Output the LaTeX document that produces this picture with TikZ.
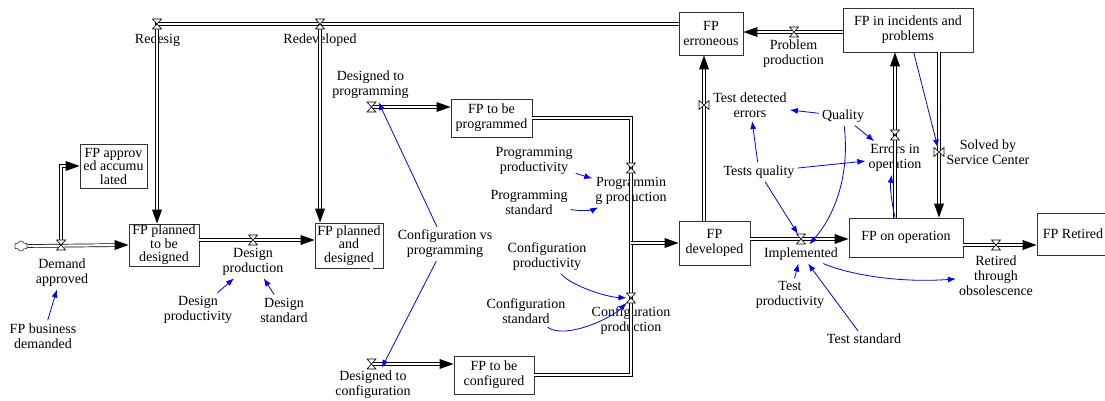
\documentclass[tikz,border=0pt]{standalone}
\usepackage{fontspec}
\setmainfont{Liberation Serif}
\usetikzlibrary{arrows.meta,shapes.symbols,calc}
\begin{document}
\begin{tikzpicture}[x=1pt,y=-1pt,
  every node/.style={font=\fontsize{14}{15}\selectfont, text=black},
  stock/.style={draw=black!80, line width=0.8pt, align=center, inner sep=1pt, fill=white},
  stock3/.style={stock, font=\fontsize{14}{13.5}\selectfont},
  var/.style={align=center, inner sep=3pt},
  vnode/.style={inner sep=0pt, outer sep=0pt, minimum width=9pt, minimum height=10pt},
  vnodev/.style={inner sep=0pt, outer sep=0pt, minimum width=10pt, minimum height=9pt},
  pipe/.style={draw=black, line width=0.7pt, double=white, double distance=2.2pt},
  pipeto/.style={pipe, shorten >=9pt},
  link/.style={draw=blue, line width=0.8pt, -{Latex[length=8pt,width=6pt]}},
  valveh/.pic={\draw[fill=white, line width=0.6pt] (-4.5,-5) -- (4.5,-5) -- (-4.5,5) -- (4.5,5) -- cycle;},
  valvev/.pic={\draw[fill=white, line width=0.6pt] (-5,-4.5) -- (-5,4.5) -- (5,-4.5) -- (5,4.5) -- cycle;},
  tipR/.pic={\fill (0,0) -- (-14,-5) -- (-14,5) -- cycle;},
  tipL/.pic={\fill (0,0) -- (14,-5) -- (14,5) -- cycle;},
  tipU/.pic={\fill (0,0) -- (-5,14) -- (5,14) -- cycle;},
  tipD/.pic={\fill (0,0) -- (-5,-14) -- (5,-14) -- cycle;}
]
\useasboundingbox (0,0) rectangle (1105,400);

% stocks
\node[stock3, minimum width=67pt, minimum height=44pt] (acc) at (113.5,166) {FP approv\\ed accumu\\lated};
\node[stock3, minimum width=70pt, minimum height=42pt] (ppd) at (164,245) {FP planned\\to be\\designed};
\node[stock3, minimum width=68pt, minimum height=45pt] (pad) at (349,245.5) {FP planned\\and\\designed};
\node[stock, minimum width=81pt, minimum height=38pt] (tbp) at (491.5,118) {FP to be\\programmed};
\node[stock, minimum width=80pt, minimum height=38pt] (tbc) at (494,375) {FP to be\\configured};
\node[stock, minimum width=71pt, minimum height=44pt] (dev) at (714.5,243) {FP\\developed};
\node[stock, minimum width=64pt, minimum height=43pt] (err) at (711,33.5) {FP\\erroneous};
\node[stock, minimum width=130pt, minimum height=44pt] (inc) at (908,30) {FP in incidents and\\problems};
\node[stock, minimum width=114pt, minimum height=39pt] (ope) at (906,237.5) {FP on operation};
\node[stock, minimum width=72pt, minimum height=42pt] (ret) at (1073,234) {FP Retired};

% source cloud
\node[cloud, draw=black!80, line width=0.6pt, cloud puffs=6, aspect=1.3, minimum width=13pt, minimum height=10pt, inner sep=0pt] (src) at (21,246) {};

% valves
\node[vnode] (vDA) at (61,245) {};
\node[vnode] (vDP) at (253,240) {};
\node[vnode] (vRS) at (157,24) {};
\node[vnode] (vRD) at (320,24) {};
\node[vnode] (vDTP) at (371.5,107) {};
\node[vnode] (vDTC) at (371.5,364) {};
\node[vnode] (vPP) at (631,168) {};
\node[vnode] (vCP) at (631,298) {};
\node[vnodev] (vTD) at (704,105) {};
\node[vnode] (vIM) at (801,239) {};
\node[vnode] (vRT) at (996,245) {};
\node[vnode] (vEO) at (895,135) {};
\node[vnodev] (vSS) at (939,152) {};
\node[vnode] (vPR) at (794,32) {};

% flow labels
\node[var] (lDA) at (62,272.5) {Demand\\approved};
\node[var] (lDP) at (253,261.5) {Design\\production};
\node[var] (lRS) at (157.5,40) {Redesig};
\node[var] (lRD) at (320,40) {Redeveloped};
\node[var] (lDTP) at (370.5,85) {Designed to\\programming};
\node[var] (lDTC) at (373,385) {Designed to\\configuration};
\node[var] (lPP) at (631,190.5) {Programmin\\g production};
\node[var] (lCP) at (631,320.5) {Configuration\\production};
\node[var] (lTD) at (750,105.5) {Test detected\\errors};
\node[var] (lIM) at (801,254) {Implemented};
\node[var] (lRT) at (996,276) {Retired\\through\\obsolescence};
\node[var] (lEO) at (895,158) {Errors in\\operation};
\node[var] (lSS) at (988,152.5) {Solved by\\Service Center};
\node[var] (lPR) at (793.5,54) {Problem\\production};

% auxiliaries
\node[var] (fbd) at (43,336) {FP business\\demanded};
\node[var] (dpv) at (198,310) {Design\\productivity};
\node[var] (dst) at (284,310) {Design\\standard};
\node[var] (cvp) at (445,244) {Configuration vs\\programming};
\node[var] (ppv) at (534,160.5) {Programming\\productivity};
\node[var] (pst) at (529,202.5) {Programming\\standard};
\node[var] (cpv) at (547,256.5) {Configuration\\productivity};
\node[var] (cst) at (526,311.5) {Configuration\\standard};
\node[var] (qua) at (843,116) {Quality};
\node[var] (tq) at (759,172) {Tests quality};
\node[var] (tpv) at (790,295) {Test\\productivity};
\node[var] (tst) at (864,339) {Test standard};

% pipes
\draw[pipeto] (src.east) -- (ppd.west);
\draw[pipeto] (vDA.center) |- (acc.west);
\draw[pipeto] (ppd.east |- vDP) -- (pad.west |- vDP);
\draw[pipeto] (err.west |- vRS) -- (vRS.center) -- (vRS |- ppd.north);
\draw[pipeto] (vRD.center) -- (vRD |- pad.north);
\draw[pipeto] (pad.north -| vDTP) -- (vDTP.center) -- (tbp.west |- vDTP);
\draw[pipeto] (pad.south -| vDTC) -- (vDTC.center) -- (tbc.west |- vDTC);
\draw[pipe] (tbp.east) -| (vPP.center) -- (vPP |- dev.west);
\draw[pipe] (tbc.east) -| (vCP.center) -- (vCP |- dev.west);
\draw[pipeto] (vPP |- dev.west) -- (dev.west);
\draw[pipeto] (dev.north -| vTD) -- (err.south -| vTD);
\draw[pipeto] (dev.east |- vIM) -- (ope.west |- vIM);
\draw[pipeto] (ope.east |- vRT) -- (ret.west |- vRT);
\draw[pipeto] (ope.north -| vEO) -- (inc.south -| vEO);
\draw[pipeto] (inc.south -| vSS) -- (ope.north -| vSS);
\draw[pipeto] (inc.west |- vPR) -- (err.east |- vPR);

% pipe arrow tips
\pic at (ppd.west) {tipR};
\pic at (acc.west) {tipR};
\pic at (pad.west |- vDP) {tipR};
\pic at (vRS |- ppd.north) {tipD};
\pic at (vRD |- pad.north) {tipD};
\pic at (tbp.west |- vDTP) {tipR};
\pic at (tbc.west |- vDTC) {tipR};
\pic at (dev.west) {tipR};
\pic at (err.south -| vTD) {tipU};
\pic at (ope.west |- vIM) {tipR};
\pic at (ret.west |- vRT) {tipR};
\pic at (inc.south -| vEO) {tipU};
\pic at (ope.north -| vSS) {tipD};
\pic at (err.east |- vPR) {tipL};

% valve symbols
\foreach \v in {vDA,vDP,vRS,vRD,vDTP,vDTC,vPP,vCP,vIM,vRT,vEO,vPR} {\pic at (\v) {valveh};}
\foreach \v in {vTD,vSS} {\pic at (\v) {valvev};}

% information links
\draw[link] (fbd) -- (lDA);
\draw[link] (dpv) -- (lDP);
\draw[link] (dst) -- (lDP);
\draw[link] (cvp) -- (lDTP);
\draw[link] (cvp) -- (lDTC);
\draw[link] (ppv) -- (lPP);
\draw[link] (pst) .. controls (585,212) and (595,209) .. (lPP);
\draw[link] (cpv) .. controls (570,285) and (605,297) .. (vCP);
\draw[link] (cst) .. controls (565,340) and (612,318) .. (vCP);
\draw[link] (qua) -- (lTD);
\draw[link] (qua) -- (lEO);
\draw[link] (qua) .. controls (850,175) and (835,215) .. (lIM);
\draw[link] (tq) -- (lTD);
\draw[link] (tq) -- (lEO);
\draw[link] (tq) -- (vIM);
\draw[link] (ope.north -| vEO) .. controls (891,200) and (890,185) .. (lEO);
\draw[link] (inc) -- (vSS);
\draw[link] (tpv) -- (lIM);
\draw[link] (tst) -- (lIM);
\draw[link] (lIM) .. controls (850,275) and (900,283) .. (lRT);
\end{tikzpicture}
\end{document}
